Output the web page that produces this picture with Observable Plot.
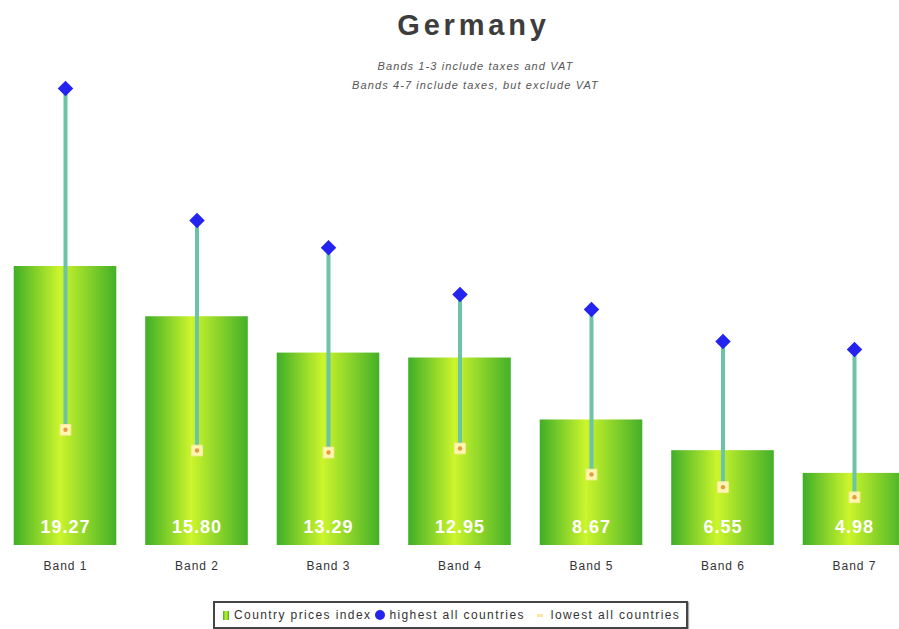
<!DOCTYPE html>
<html>
<head>
<meta charset="utf-8">
<script src="https://cdn.jsdelivr.net/npm/d3@7"></script>
<script src="https://cdn.jsdelivr.net/npm/@observablehq/plot@0.6"></script>
<style>
  html, body { margin: 0; padding: 0; background: #fff; }
  body { width: 899px; height: 629px; overflow: hidden; font-family: "Liberation Sans", Arial, sans-serif; }
  #wrap { position: relative; width: 899px; }
  #title { position: absolute; top: 8px; left: 24px; width: 899px; text-align: center; font-size: 29px; font-weight: bold; line-height: 34px; color: #3d3d3d; letter-spacing: 3.8px; }
  #subtitle { position: absolute; top: 57px; left: 26px; width: 899px; text-align: center; font-size: 11px; font-style: italic; line-height: 19px; color: #555; letter-spacing: 1.1px; }
  #legend { position: absolute; top: 601px; left: 213px; width: 463px; height: 24px; border: 2px solid #444; box-shadow: 1px 1px 1px #aaa; display: flex; align-items: center; font-size: 12px; color: #333; letter-spacing: 1.4px; padding-left: 8px; box-sizing: content-box; white-space: nowrap; }
  .sw { display: inline-block; flex: none; }
</style>
</head>
<body>
<div id="wrap">
  <div id="chart"></div>
  <div id="title">Germany</div>
  <div id="subtitle">Bands 1-3 include taxes and VAT<br>Bands 4-7 include taxes, but exclude VAT</div>
  <div id="legend">
    <span class="sw" style="width:6px;height:9px;background:linear-gradient(90deg,#41b12a,#ccf52c,#45b22a);margin-right:5px;"></span><span>Country prices index</span>
    <span class="sw" style="width:10px;height:10px;border-radius:50%;background:#2424ee;margin-left:4px;margin-right:4px;"></span><span>highest all countries</span>
    <span class="sw" style="width:6px;height:3px;background:#fde7a0;margin-left:12px;margin-right:8px;"></span><span>lowest all countries</span>
  </div>
</div>
<script>
const bands = ["Band 1", "Band 2", "Band 3", "Band 4", "Band 5", "Band 6", "Band 7"];
const indexValues = [19.27, 15.80, 13.29, 12.95, 8.67, 6.55, 4.98];
const highestValues = [31.57, 22.45, 20.56, 17.34, 16.30, 14.09, 13.54];
const lowestValues = [7.99, 6.56, 6.42, 6.70, 4.90, 4.03, 3.33];

const data = bands.map((b, i) => ({
  band: b,
  index: indexValues[i],
  high: highestValues[i],
  low: lowestValues[i]
}));

const chart = Plot.plot({
  width: 899,
  height: 595,
  marginLeft: 0,
  marginRight: 0,
  marginTop: 0,
  marginBottom: 50,
  x: { domain: bands, range: [-0.75, 919.75], round: false, paddingInner: 0.22, paddingOuter: 0.11, label: null, tickSize: 0, tickPadding: 16 },
  y: { domain: [0, 545 / 14.478], axis: null },
  style: { fontFamily: "Liberation Sans, Arial, sans-serif", fontSize: "12px", color: "#333", background: "transparent" },
  marks: [
    Plot.barY(data, { x: "band", y: "index", fill: "url(#barGrad)" }),
    Plot.ruleX(data, { x: "band", y1: "low", y2: "high", stroke: "#6cc4a4", strokeWidth: 4 }),
    Plot.dot(data, { x: "band", y: "high", symbol: "diamond2", r: 7, fill: "#2424ee", stroke: "none" }),
    Plot.dot(data, { x: "band", y: "low", symbol: "square", r: 6, fill: "#fff6b0", stroke: "#fdeaa0", strokeWidth: 1 }),
    Plot.dot(data, { x: "band", y: "low", r: 2.2, fill: "#e89a40", stroke: "none" }),
    Plot.text(data, { x: "band", y: 0, text: d => d.index.toFixed(2), dy: -18, fill: "white", fontWeight: "bold", fontSize: 18 })
  ]
});

const svg = d3.select(chart);
svg.selectAll("g[aria-label='x-axis tick label'] text, g[aria-label='text'] text").style("letter-spacing", "1px");
const defs = svg.insert("defs", ":first-child");
const grad = defs.append("linearGradient").attr("id", "barGrad").attr("x1", "0").attr("x2", "1").attr("y1", "0").attr("y2", "0");
grad.append("stop").attr("offset", "0%").attr("stop-color", "#3fae28");
grad.append("stop").attr("offset", "45%").attr("stop-color", "#ccf52c");
grad.append("stop").attr("offset", "100%").attr("stop-color", "#43b028");

document.getElementById("chart").appendChild(chart);
</script>
</body>
</html>
